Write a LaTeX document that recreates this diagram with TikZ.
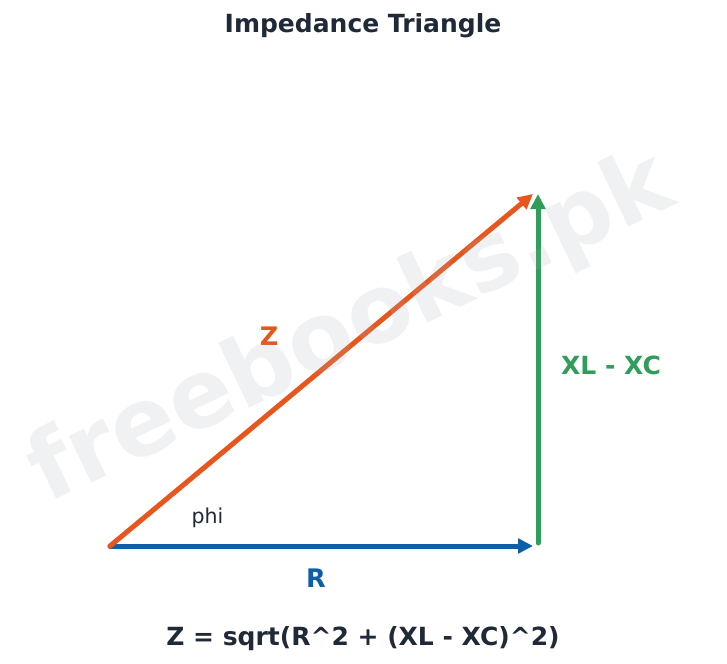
\documentclass[tikz,border=0pt]{standalone}
\usepackage{fontspec}
\setmainfont{DejaVu Sans}
\usetikzlibrary{arrows.meta}
\definecolor{zorange}{HTML}{E8561E}
\definecolor{rblue}{HTML}{0F5FA8}
\definecolor{xgreen}{HTML}{2E9E5A}
\definecolor{ink}{HTML}{1F2937}
\definecolor{wmark}{HTML}{A8AFBC}
\tikzset{
  vec/.style={line width=5pt, line cap=round, -{Triangle[length=15pt,width=14.5pt]}},
  lbl/.style={inner sep=0pt, anchor=base, font=\bfseries\fontsize{25}{30}\selectfont},
}
\begin{document}
\begin{tikzpicture}[x=1pt,y=-1pt]
\useasboundingbox[fill=white] (0,0) rectangle (727,663);
\coordinate (O) at (110,546);
\coordinate (Rend) at (533,546);
\coordinate (Gs) at (538,543);
\coordinate (Gt) at (538,194);
\coordinate (Zt) at (533,194);
\draw[vec, rblue] (O) -- (Rend);
\draw[vec, xgreen] (Gs) -- (Gt);
\draw[vec, zorange] (O) -- (Zt);
\node[lbl, ink, font=\bfseries\fontsize{25}{29}\selectfont] (title) at (363,33) {Impedance Triangle};
\node[lbl, zorange, font=\bfseries\fontsize{25.5}{30}\selectfont] (zl) at (269,345) {Z};
\node[lbl, xgreen, anchor=base west] (xl) at (561,374) {XL - XC};
\node[lbl, ink, font=\fontsize{20.5}{24}\selectfont] (phi) at (207.5,523) {phi};
\node[lbl, rblue, font=\bfseries\fontsize{25.5}{30}\selectfont] (rl) at (316,587) {R};
\node[lbl, ink] (formula) at (363,645) {Z = sqrt(R\^{}2 + (XL - XC)\^{}2)};
\node[inner sep=0pt, rotate=25.5, text=wmark, text opacity=0.17, font=\bfseries\fontsize{94.5}{100}\selectfont] (wm) at (352,330) {freebooks.pk};
\end{tikzpicture}
\end{document}
